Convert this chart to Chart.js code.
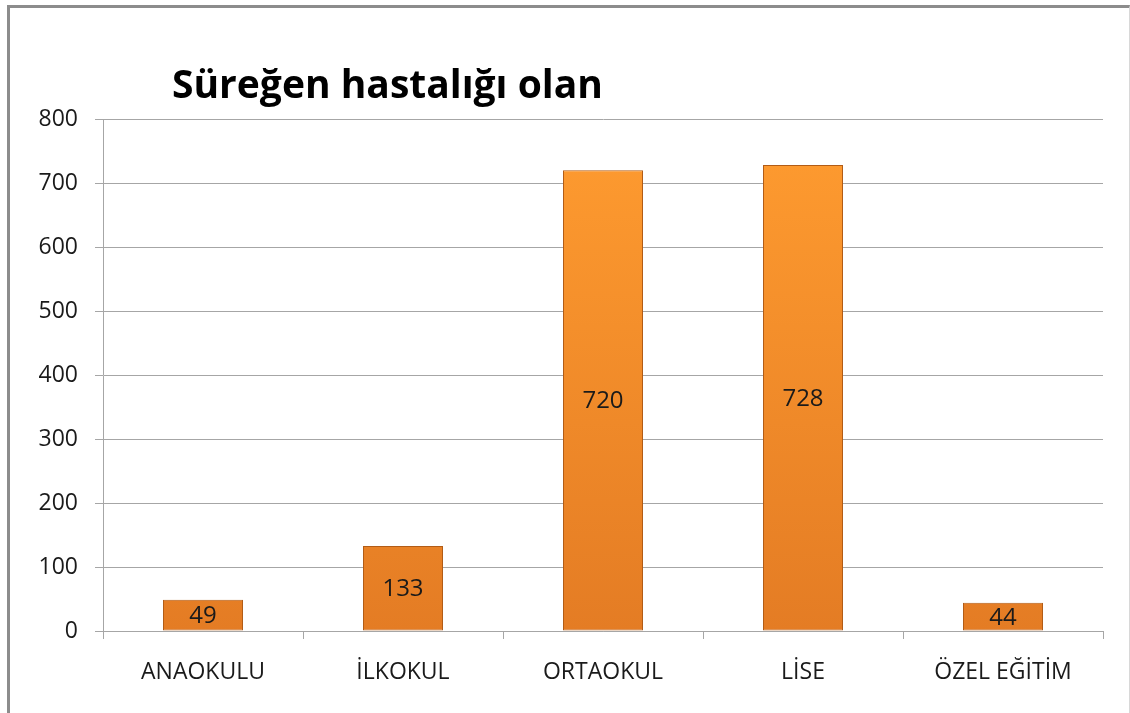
<!DOCTYPE html>
<html>
<head>
<meta charset="utf-8">
<script src="https://cdn.jsdelivr.net/npm/chart.js@4.4.1/dist/chart.umd.min.js"></script>
<style>
  html, body { margin: 0; padding: 0; background: #fff; }
  #frame {
    position: absolute; left: 7px; top: 5px;
    border-left: 3px solid #8c8c8c;
    border-top: 3px solid #8c8c8c;
    border-right: 1px solid #d8d8d8;
  }
  canvas { display: block; }
</style>
</head>
<body>
<div id="frame"><canvas id="bar-chart" width="1119" height="705"></canvas></div>
<script>
const chartTitle = 'Süreğen hastalığı olan';
const categories = ['ANAOKULU', 'İLKOKUL', 'ORTAOKUL', 'LİSE', 'ÖZEL EĞİTİM'];
const values = [49, 133, 720, 728, 44];
const yTicks = [0, 100, 200, 300, 400, 500, 600, 700, 800];

const FONT = "'Open Sans', sans-serif";
const GRID = '#a6a6a6';

// title sits left of centre, like the original
const titlePlugin = {
    id: 'leftTitle',
    afterDraw(chart) {
        const c = chart.ctx;
        c.save();
        c.font = 'bold 39px ' + FONT;
        c.fillStyle = '#000';
        c.textAlign = 'left';
        c.textBaseline = 'alphabetic';
        c.fillText(chartTitle, chart.chartArea.left + 69, 90);
        c.restore();
    }
};

// value in the middle of each bar
const valueLabels = {
    id: 'valueLabels',
    afterDatasetsDraw(chart) {
        const c = chart.ctx;
        c.save();
        c.font = '24px ' + FONT;
        c.fillStyle = '#1a1a1a';
        c.textAlign = 'center';
        c.textBaseline = 'middle';
        chart.getDatasetMeta(0).data.forEach((bar, i) => {
            c.fillText(values[i], bar.x, (bar.y + bar.base) / 2 + 1);
        });
        c.restore();
    }
};

function barFill(context) {
    const area = context.chart.chartArea;
    if (!area) return '#f7902a';
    const g = context.chart.ctx.createLinearGradient(0, area.top, 0, area.bottom);
    g.addColorStop(0, '#ff9c30');
    g.addColorStop(1, '#e47c24');
    return g;
}

const ctx = document.getElementById('bar-chart').getContext('2d');
const barChart = new Chart(ctx, {
    type: 'bar',
    data: {
        labels: categories,
        datasets: [{
            data: values,
            backgroundColor: barFill,
            borderColor: '#b25c16',
            borderWidth: 1,
            borderSkipped: false,
            categoryPercentage: 1,
            barPercentage: 0.4
        }]
    },
    options: {
        responsive: false,
        animation: false,
        layout: { padding: { left: 0, top: 111, right: 26, bottom: 0 } },
        plugins: {
            legend: { display: false },
            tooltip: { enabled: false },
            title: { display: false }
        },
        scales: {
            x: {
                afterFit: (scale) => { scale.height = 82; },
                grid: {
                    offset: true,
                    drawOnChartArea: false,
                    drawTicks: true,
                    tickLength: 8,
                    color: GRID
                },
                border: { color: GRID, width: 1 },
                ticks: {
                    color: '#1a1a1a',
                    padding: 20,
                    font: { family: FONT, size: 23 },
                    maxRotation: 0
                }
            },
            y: {
                min: 0,
                max: 800,
                afterFit: (scale) => { scale.width = 93; },
                afterBuildTicks: (scale) => { scale.ticks = yTicks.map(v => ({ value: v })); },
                grid: { color: GRID, tickLength: 8 },
                border: { color: GRID, width: 1 },
                ticks: {
                    color: '#1a1a1a',
                    padding: 17,
                    font: { family: FONT, size: 23 }
                }
            }
        }
    },
    plugins: [titlePlugin, valueLabels]
});
</script>
</body>
</html>
